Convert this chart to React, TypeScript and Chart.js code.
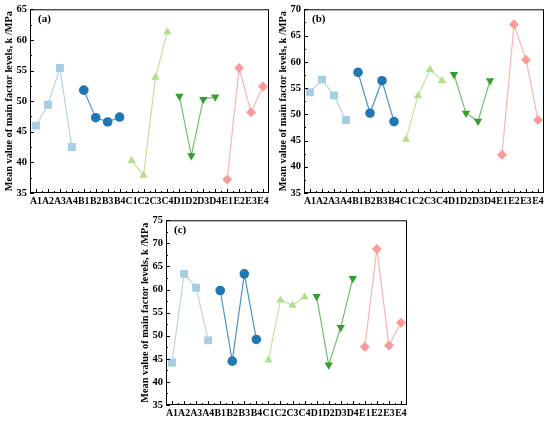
import { useEffect, useRef } from 'react';
import { Chart, registerables } from 'chart.js';

Chart.register(...registerables);

// factor levels on the x axis
const categories = [
  'A1', 'A2', 'A3', 'A4', 'B1', 'B2', 'B3', 'B4', 'C1', 'C2',
  'C3', 'C4', 'D1', 'D2', 'D3', 'D4', 'E1', 'E2', 'E3', 'E4',
];

// mean value of each factor level, k /MPa
const valuesA = [
  46.0, 49.4, 55.4, 42.5, 51.8, 47.3, 46.6, 47.4, 40.3, 37.9,
  53.9, 61.3, 50.8, 41.1, 50.3, 50.7, 37.2, 55.4, 48.2, 52.4,
];
const valuesB = [
  54.2, 56.6, 53.6, 48.9, 58.0, 50.2, 56.4, 48.6, 45.2, 53.5,
  58.5, 56.4, 57.6, 50.2, 48.7, 56.4, 42.3, 67.1, 60.4, 48.9,
];
const valuesC = [
  44.2, 63.4, 60.4, 49.0, 59.8, 44.5, 63.4, 49.2, 44.7, 57.7,
  56.6, 58.4, 58.5, 43.7, 51.8, 62.4, 47.6, 68.8, 47.9, 52.8,
];

const yTicksA = { min: 35, max: 65 };
const yTicksB = { min: 35, max: 70 };
const yTicksC = { min: 35, max: 75 };

const groupColors = ['#a6cee3', '#1f78b4', '#b2df8a', '#33a02c', '#fb9a99'];
const lineColors = [
  'rgba(166,206,227,0.85)',
  'rgba(31,120,180,0.8)',
  'rgba(178,223,138,0.85)',
  'rgba(51,160,44,0.7)',
  'rgba(251,154,153,0.75)',
];
const shapes = ['rect', 'circle', 'triangle', 'triangle', 'rectRot'] as const;
const rotations = [0, 0, 0, 180, 0];
const radii = [5.6, 4.8, 4.8, 4.8, 5];

const FONT = "'Liberation Serif', 'Times New Roman', serif";

const framePlugin = {
  id: 'frame',
  afterDraw(chart: any, _args: any, opts: any) {
    const { ctx, chartArea: a, scales } = chart;
    const x = scales.x;
    const y = scales.y;
    ctx.save();
    ctx.strokeStyle = '#000';
    ctx.lineWidth = 1;
    ctx.strokeRect(a.left + 0.5, a.top + 0.5, a.right - a.left - 1, a.bottom - a.top - 1);

    ctx.beginPath();
    // y ticks, inward
    for (let v = y.min; v <= y.max; v += 2.5) {
      const py = Math.round(y.getPixelForValue(v)) + 0.5;
      const len = (v - y.min) % 5 === 0 ? 4 : 2;
      ctx.moveTo(a.left, py);
      ctx.lineTo(a.left + len, py);
    }
    // x ticks, inward
    const n = chart.data.labels.length;
    for (let i = 0; i < n; i++) {
      const px = Math.round(x.getPixelForValue(i)) + 0.5;
      ctx.moveTo(px, a.bottom);
      ctx.lineTo(px, a.bottom - 4);
      if (i < n - 1) {
        const mx = Math.round((x.getPixelForValue(i) + x.getPixelForValue(i + 1)) / 2) + 0.5;
        ctx.moveTo(mx, a.bottom);
        ctx.lineTo(mx, a.bottom - 2);
      }
    }
    ctx.stroke();

    ctx.fillStyle = '#000';
    ctx.font = `bold 11px ${FONT}`;
    ctx.textBaseline = 'middle';
    ctx.fillText(opts.label, a.left + 8, a.top + 10);
    ctx.restore();
  },
};

interface PanelProps {
  label: string;
  values: number[];
  range: { min: number; max: number };
  left: number;
  top: number;
  width: number;
  height: number;
}

function Panel({ label, values, range, left, top, width, height }: PanelProps) {
  const canvasRef = useRef<HTMLCanvasElement>(null);
  const axisW = 30;
  const axisH = 17;
  const padTop = 8;
  const padRight = 6;
  const cw = width + axisW + padRight;
  const ch = height + axisH + padTop;

  useEffect(() => {
    if (!canvasRef.current) return;

    const datasets = groupColors.map((color, g) => ({
      label: 'ABCDE'[g],
      data: values.map((v, i) => (Math.floor(i / 4) === g ? v : null)),
      borderColor: lineColors[g],
      backgroundColor: color,
      pointBackgroundColor: color,
      pointBorderColor: color,
      pointBorderWidth: 0,
      pointStyle: shapes[g],
      pointRotation: rotations[g],
      pointRadius: radii[g],
      borderWidth: 1.2,
      spanGaps: false,
    }));

    const chart = new Chart(canvasRef.current, {
      type: 'line',
      data: { labels: categories, datasets },
      plugins: [framePlugin],
      options: {
        responsive: false,
        animation: false,
        layout: { padding: { top: padTop, right: padRight, left: 0, bottom: 0 } },
        plugins: {
          legend: { display: false },
          tooltip: { enabled: false },
          frame: { label },
        } as any,
        scales: {
          x: {
            type: 'category',
            offset: true,
            afterFit: (s: any) => {
              s.height = axisH;
            },
            grid: { display: false, drawTicks: false },
            border: { display: false },
            ticks: {
              autoSkip: false,
              maxRotation: 0,
              minRotation: 0,
              padding: 3,
              color: '#000',
              font: { family: FONT, size: 9.8, weight: 'bold' },
            },
          },
          y: {
            min: range.min,
            max: range.max,
            afterFit: (s: any) => {
              s.width = axisW;
            },
            grid: { display: false, drawTicks: false },
            border: { display: false },
            ticks: {
              stepSize: 5,
              padding: 3,
              color: '#000',
              font: { family: FONT, size: 10.5, weight: 'bold' },
            },
            title: {
              display: true,
              text: 'Mean value of main factor levels, k /MPa',
              color: '#000',
              padding: { top: 3, bottom: 0 },
              font: { family: FONT, size: 10.3, weight: 'bold' },
            },
          },
        },
      },
    });

    return () => {
      chart.destroy();
    };
  }, [label, values, range]);

  return (
    <canvas
      ref={canvasRef}
      width={cw}
      height={ch}
      style={{
        position: 'absolute',
        left: left - axisW,
        top: top - padTop,
        width: cw,
        height: ch,
      }}
    />
  );
}

export default function App() {
  return (
    <div
      style={{
        position: 'absolute',
        left: 0,
        top: 0,
        width: 550,
        height: 421,
        background: '#fff',
        overflow: 'hidden',
      }}
    >
      <Panel label="(a)" values={valuesA} range={yTicksA} left={30} top={8} width={239} height={185} />
      <Panel label="(b)" values={valuesB} range={yTicksB} left={304} top={8} width={240} height={185} />
      <Panel label="(c)" values={valuesC} range={yTicksC} left={166} top={219} width={241} height={186} />
    </div>
  );
}
